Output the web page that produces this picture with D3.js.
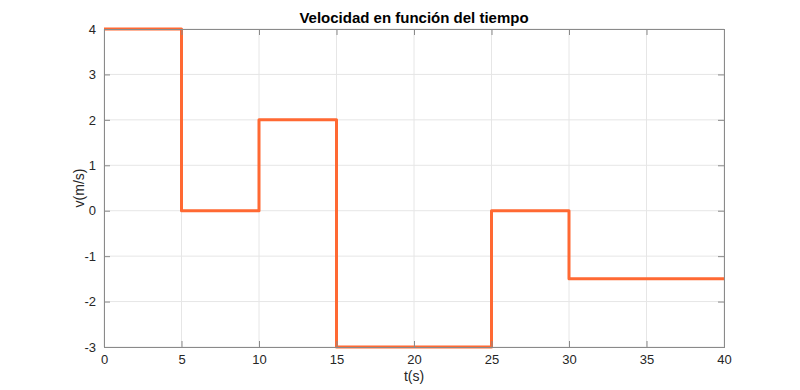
<!DOCTYPE html>
<html>
<head>
<meta charset="utf-8">
<script src="https://cdn.jsdelivr.net/npm/d3@7"></script>
<style>
  body { margin: 0; background: #fff; }
  svg text { font-family: "Liberation Sans", Arial, sans-serif; fill: #262626; }
</style>
</head>
<body>
<svg id="chart" width="800" height="390"></svg>
<script>
// step values: v holds from stepStart[i] until the next start
var stepStart = [0, 5, 10, 15, 25, 30, 40];
var stepValue = [4, 0, 2, -3, 0, -1.5, -1.5];
var xTicks = [0, 5, 10, 15, 20, 25, 30, 35, 40];
var yTicks = [-3, -2, -1, 0, 1, 2, 3, 4];

var margin = {left: 104, right: 76, top: 29, bottom: 43};
var width = 800, height = 390;
var svg = d3.select('#chart');

var x = d3.scaleLinear().domain([0, 40]).range([margin.left, width - margin.right]);
var y = d3.scaleLinear().domain([-3, 4]).range([height - margin.bottom, margin.top]);
var fmt = function (d) { return String(d); };

// grid
var grid = svg.append('g');
grid.selectAll('line.gx')
    .data(xTicks)
    .enter()
    .append('line')
    .attr('x1', function (d) { return x(d); })
    .attr('x2', function (d) { return x(d); })
    .attr('y1', y(-3))
    .attr('y2', y(4))
    .style('stroke', '#e6e6e6')
    .style('stroke-width', 1);
grid.selectAll('line.gy')
    .data(yTicks)
    .enter()
    .append('line')
    .attr('x1', x(0))
    .attr('x2', x(40))
    .attr('y1', function (d) { return y(d); })
    .attr('y2', function (d) { return y(d); })
    .style('stroke', '#e6e6e6')
    .style('stroke-width', 1);

// data line
svg.append('clipPath').attr('id', 'clip')
    .append('rect')
    .attr('x', x(0)).attr('y', y(4) - 3)
    .attr('width', x(40) - x(0)).attr('height', y(-3) - y(4) + 6);

var pts = stepStart.map(function (t, i) { return [t, stepValue[i]]; });
var line = d3.line()
    .x(function (d) { return x(d[0]); })
    .y(function (d) { return y(d[1]); })
    .curve(d3.curveStepAfter);

svg.append('path')
    .datum(pts)
    .attr('d', line)
    .attr('clip-path', 'url(#clip)')
    .style('fill', 'none')
    .style('stroke', '#ff6933')
    .style('stroke-width', 3)
    .style('stroke-linejoin', 'round');

// axes, MATLAB-style box with inward ticks
var axisColor = '#8a8a8a';
function styleAxis(g) {
    g.select('.domain').remove();
    g.selectAll('.tick line').style('stroke', axisColor);
    g.selectAll('.tick text').style('font-size', '13px').style('fill', '#262626');
}
svg.append('g')
    .attr('transform', 'translate(0,' + y(-3) + ')')
    .call(d3.axisBottom(x).tickValues(xTicks).tickFormat(fmt).tickSizeInner(-6).tickSizeOuter(0).tickPadding(8))
    .call(styleAxis);
svg.append('g')
    .attr('transform', 'translate(0,' + y(4) + ')')
    .call(d3.axisTop(x).tickValues(xTicks).tickSizeInner(-6).tickSizeOuter(0).tickFormat(''))
    .call(styleAxis);
svg.append('g')
    .attr('transform', 'translate(' + x(0) + ',0)')
    .call(d3.axisLeft(y).tickValues(yTicks).tickFormat(fmt).tickSizeInner(-6).tickSizeOuter(0).tickPadding(8))
    .call(styleAxis);
svg.append('g')
    .attr('transform', 'translate(' + x(40) + ',0)')
    .call(d3.axisRight(y).tickValues(yTicks).tickSizeInner(-6).tickSizeOuter(0).tickFormat(''))
    .call(styleAxis);

svg.append('rect')
    .attr('x', x(0) + 0.5).attr('y', y(4) + 0.5)
    .attr('width', x(40) - x(0)).attr('height', y(-3) - y(4))
    .style('fill', 'none')
    .style('stroke', axisColor)
    .style('stroke-width', 1);

// labels
svg.append('text')
    .text('Velocidad en función del tiempo')
    .attr('x', (x(0) + x(40)) / 2)
    .attr('y', 23)
    .attr('text-anchor', 'middle')
    .style('font-size', '15px')
    .style('font-weight', 'bold')
    .style('fill', '#000');
svg.append('text')
    .text('t(s)')
    .attr('x', (x(0) + x(40)) / 2)
    .attr('y', 381)
    .attr('text-anchor', 'middle')
    .style('font-size', '14px');
svg.append('text')
    .text('v(m/s)')
    .attr('transform', 'translate(84,' + ((y(4) + y(-3)) / 2) + ') rotate(-90)')
    .attr('text-anchor', 'middle')
    .style('font-size', '14px');
</script>
</body>
</html>
